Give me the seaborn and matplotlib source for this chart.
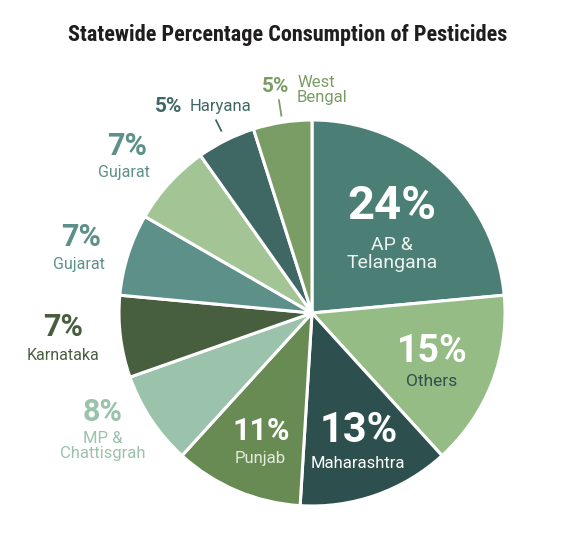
import numpy as np
import matplotlib
matplotlib.use('Agg')
import matplotlib.pyplot as plt
from matplotlib import font_manager as fm
import seaborn as sns

sns.set_theme(style='white')

states = ['AP &\nTelangana', 'Others', 'Maharashtra', 'Punjab', 'MP &\nChattisgrah',
          'Karnataka', 'Gujarat', 'Gujarat', 'Haryana', 'West\nBengal']
share = [24, 15, 13, 11, 8, 7, 7, 7, 5, 5]
colors = ['#4b7f75', '#96bc86', '#2d504e', '#688b53', '#9bc2aa',
          '#485f3f', '#5d9088', '#a3c596', '#3f6764', '#7a9d65']

# condensed face for the title, plain one for the labels
names = {f.name for f in fm.fontManager.ttflist}
title_font = next(f for f in ['Roboto Condensed', 'Liberation Sans Narrow', 'DejaVu Sans'] if f in names)
label_font = next(f for f in ['Roboto', 'Liberation Sans', 'DejaVu Sans'] if f in names)
plt.rcParams['font.family'] = [label_font, 'DejaVu Sans']

W, H = 575, 550
fig = plt.figure(figsize=(W / 100, H / 100), dpi=100)
ax = fig.add_axes([0, 0, 1, 1])

cx, cy, R = 312, H - 313, 193
wedges, _ = ax.pie(share, colors=sns.color_palette(colors), startangle=90, counterclock=False,
                   radius=R, center=(cx, cy), explode=[0.045, 0.055, 0, 0, 0, 0, 0, 0, 0, 0],
                   wedgeprops=dict(edgecolor='white', linewidth=2.2))
ax.set_xlim(0, W)
ax.set_ylim(0, H)
ax.set_aspect('equal')
ax.axis('off')

# label layout in pixels: (pct x, pct y, pct size, name x, name y, name size, name align)
layout = [
    (392, 206, 34, 392, 254, 14, 'center'),
    (432, 351, 27, 432, 382, 12.5, 'center'),
    (359, 431, 30, 358, 463, 12, 'center'),
    (261, 431, 22, 260, 458, 12, 'center'),
    (103, 412, 22, 103, 446, 12, 'center'),
    (63, 327, 22, 63, 355, 11.5, 'center'),
    (81, 237, 22, 79, 264, 11.5, 'center'),
    (127, 146, 22, 124, 173, 11.5, 'center'),
    (169, 106, 15, 190, 107, 12, 'left'),
    (276, 86, 15, 297, 90, 12, 'left'),
]
pct_colors = ['white', 'white', 'white', 'white', '#9bc2aa',
              '#485f3f', '#5d9088', '#5d9088', '#3f6764', '#7a9d65']
name_colors = ['#eef3f1', '#2d504e', 'white', '#e3ecdc', '#9bc2aa',
               '#485f3f', '#5d9088', '#5d9088', '#3f6764', '#7a9d65']

for i, (v, name) in enumerate(zip(share, states)):
    px, py, ps, nx, ny, ns, ha = layout[i]
    ax.text(px, H - py, f'{v}%', ha='center', va='center', fontsize=ps,
            fontweight='bold', color=pct_colors[i])
    ax.text(nx, H - ny, name, ha=ha, va='center', fontsize=ns, color=name_colors[i],
            linespacing=0.95)

# leader ticks for the two thin slices at the top
for w, r0, r1 in [(wedges[8], 1.05, 1.12), (wedges[9], 1.03, 1.12)]:
    a = np.deg2rad((w.theta1 + w.theta2) / 2)
    ax.plot([cx + r0 * R * np.cos(a), cx + r1 * R * np.cos(a)],
            [cy + r0 * R * np.sin(a), cy + r1 * R * np.sin(a)],
            color=w.get_facecolor(), lw=1.3, solid_capstyle='butt')

ax.text(W / 2, H - 35, 'Statewide Percentage Consumption of Pesticides', ha='center',
        va='center', fontsize=16, fontweight='bold', color='#1f1d1e',
        family=[title_font, 'DejaVu Sans'])

fig.savefig('out.png', dpi=100)
